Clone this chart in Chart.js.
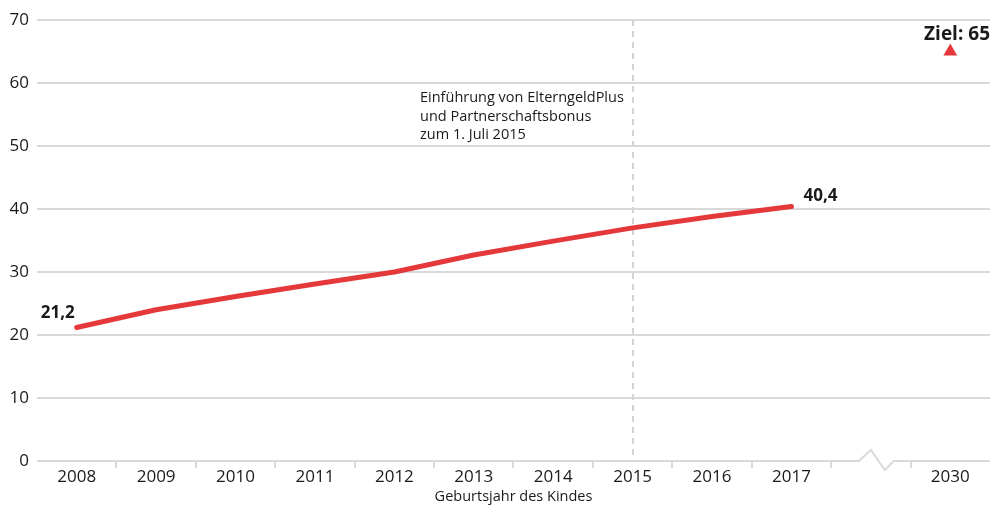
<!DOCTYPE html>
<html>
<head>
<meta charset="utf-8">
<script src="https://cdn.jsdelivr.net/npm/chart.js@4"></script>
<style>
  html, body { margin: 0; padding: 0; background: #fff; }
  #wrap { width: 998px; height: 506px; }
</style>
</head>
<body>
<div id="wrap"><canvas id="chart"></canvas></div>
<script>
// data
const years = ["2008", "2009", "2010", "2011", "2012", "2013", "2014", "2015", "2016", "2017", "", "2030"];
const shares = [21.2, 24.0, 26.1, 28.1, 30.0, 32.7, 34.9, 37.0, 38.8, 40.4, null, null];
const target = [null, null, null, null, null, null, null, null, null, null, null, 65];
const yTicks = [0, 10, 20, 30, 40, 50, 60, 70];
const noteLines = ["Einführung von ElterngeldPlus", "und Partnerschaftsbonus", "zum 1. Juli 2015"];

const red = "#e5383b";
const grey = "#d9d9d9";
const textColor = "#1a1a1a";
const font = "'Open Sans', 'Noto Sans', sans-serif";

// extra drawing: baseline with break, ticks, dashed marker, labels
const extras = {
    id: "extras",
    beforeDatasetsDraw(chart) {
        const ctx = chart.ctx;
        const x = chart.scales.x;
        const y = chart.scales.y;
        const area = chart.chartArea;
        const base = y.getPixelForValue(0);
        const step = x.getPixelForValue(1) - x.getPixelForValue(0);
        const bx = x.getPixelForValue(10);

        ctx.save();
        ctx.strokeStyle = grey;
        ctx.lineWidth = 2;

        // baseline with zigzag break
        ctx.beginPath();
        ctx.moveTo(area.left, base);
        ctx.lineTo(bx - 12, base);
        ctx.lineTo(bx, base - 11);
        ctx.lineTo(bx + 14, base + 9);
        ctx.lineTo(bx + 23, base);
        ctx.lineTo(area.right, base);
        ctx.stroke();

        // small ticks between categories
        for (let i = 1; i < years.length; i++) {
            const tx = Math.round(x.getPixelForValue(i) - step / 2);
            ctx.beginPath();
            ctx.moveTo(tx, base);
            ctx.lineTo(tx, base + 7);
            ctx.stroke();
        }

        // dashed line at 2015
        const dx = Math.round(x.getPixelForValue(7));
        ctx.strokeStyle = "#d4d4d4";
        ctx.setLineDash([6, 5]);
        ctx.beginPath();
        ctx.moveTo(dx, area.top);
        ctx.lineTo(dx, base);
        ctx.stroke();
        ctx.setLineDash([]);

        // note
        ctx.fillStyle = textColor;
        ctx.font = "14.5px " + font;
        ctx.textAlign = "left";
        ctx.textBaseline = "middle";
        noteLines.forEach((t, i) => {
            ctx.fillText(t, 420, 98 + i * 18.5);
        });
        ctx.restore();
    },
    afterDatasetsDraw(chart) {
        const ctx = chart.ctx;
        const x = chart.scales.x;
        const y = chart.scales.y;
        ctx.save();
        ctx.fillStyle = textColor;
        ctx.textBaseline = "middle";
        ctx.font = "bold 17px " + font;

        ctx.textAlign = "right";
        ctx.fillText("21,2", x.getPixelForValue(0) - 2, y.getPixelForValue(shares[0]) - 14);

        ctx.textAlign = "left";
        ctx.fillText("40,4", x.getPixelForValue(9) + 12, y.getPixelForValue(shares[9]) - 10);

        ctx.font = "bold 19px " + font;
        ctx.textAlign = "right";
        ctx.fillText("Ziel: 65", 990, y.getPixelForValue(target[11]) - 17);
        ctx.restore();
    }
};

new Chart(document.getElementById("chart"), {
    type: "line",
    data: {
        labels: years,
        datasets: [{
            data: shares,
            borderColor: red,
            borderWidth: 5,
            borderCapStyle: "round",
            borderJoinStyle: "round",
            pointRadius: 0,
            tension: 0,
            spanGaps: false
        }, {
            data: target,
            showLine: false,
            pointStyle: "triangle",
            pointRadius: 8,
            pointBackgroundColor: red,
            pointBorderColor: red,
            pointBorderWidth: 0
        }]
    },
    options: {
        responsive: true,
        maintainAspectRatio: false,
        animation: false,
        layout: { padding: { top: 20, right: 6, left: 0, bottom: 0 } },
        plugins: {
            legend: { display: false },
            tooltip: { enabled: false }
        },
        scales: {
            x: {
                offset: true,
                grid: { display: false, drawTicks: false },
                border: { display: false },
                ticks: {
                    color: textColor,
                    font: { family: font, size: 17 },
                    padding: 6,
                    maxRotation: 0,
                    autoSkip: false
                },
                title: {
                    display: true,
                    text: "Geburtsjahr des Kindes",
                    color: textColor,
                    font: { family: font, size: 14.5 },
                    padding: { top: 0, bottom: 0 }
                },
                afterFit(scale) { scale.height = 45; }
            },
            y: {
                min: 0,
                max: 70,
                afterBuildTicks(scale) {
                    scale.ticks = yTicks.map(v => ({ value: v }));
                },
                grid: {
                    color: ctx => ctx.tick && ctx.tick.value === 0 ? "rgba(0,0,0,0)" : grey,
                    lineWidth: 2,
                    drawTicks: false
                },
                border: { display: false },
                ticks: {
                    color: textColor,
                    font: { family: font, size: 17 },
                    padding: 8
                },
                afterFit(scale) { scale.width = 37; }
            }
        }
    },
    plugins: [extras]
});
</script>
</body>
</html>
